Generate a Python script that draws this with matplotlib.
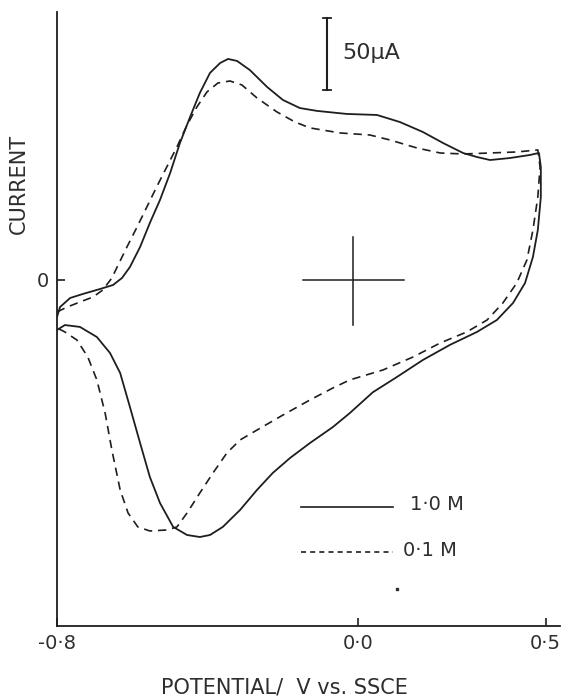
import matplotlib
matplotlib.use("Agg")
import matplotlib.pyplot as plt

# potential in V vs SSCE, current in microamps
# 1.0 M, anodic sweep then return
v_1M = [-0.800, -0.792, -0.765, -0.731, -0.686, -0.651, -0.627, -0.606, -0.579, -0.553,
        -0.526, -0.499, -0.473, -0.446, -0.420, -0.393, -0.366, -0.345, -0.321, -0.287,
        -0.241, -0.199, -0.154, -0.108, -0.029, 0.051, 0.112, 0.173, 0.227, 0.280,
        0.317, 0.352, 0.405, 0.458, 0.482,
        0.487, 0.487, 0.479, 0.466, 0.445, 0.413, 0.370, 0.317, 0.245, 0.173,
        0.104, 0.040, -0.021, -0.066, -0.127, -0.180, -0.226, -0.268, -0.313, -0.359,
        -0.393, -0.420, -0.454, -0.491, -0.526, -0.553, -0.579, -0.606, -0.632, -0.659,
        -0.694, -0.739, -0.779, -0.800]
i_1M = [-25.7, -18.8, -12.5, -9.7, -6.3, -3.5, 1.4, 9.0, 22.9, 39.6,
        55.6, 74.3, 95.1, 113.2, 129.9, 143.8, 150.7, 153.5, 152.1, 145.8,
        134.0, 125.0, 119.4, 117.4, 115.3, 114.6, 109.7, 102.8, 95.1, 88.2,
        85.4, 83.3, 84.7, 86.8, 88.2,
        78.5, 57.6, 34.7, 16.0, -2.1, -16.0, -27.8, -36.1, -45.1, -55.6,
        -67.4, -78.0, -92.4, -102.1, -113.2, -123.6, -134.0, -145.8, -159.7, -171.5,
        -177.1, -178.5, -177.1, -171.5, -154.9, -136.8, -113.2, -88.2, -64.6, -50.7,
        -39.6, -32.6, -31.3, -34.7]

# 0.1 M
v_01M = [-0.800, -0.773, -0.739, -0.704, -0.678, -0.654, -0.640, -0.614, -0.587, -0.561,
         -0.535, -0.508, -0.481, -0.454, -0.428, -0.401, -0.372, -0.340, -0.308, -0.268,
         -0.215, -0.167, -0.127, -0.047, 0.032, 0.086, 0.157, 0.219, 0.280, 0.352,
         0.423, 0.479,
         0.485, 0.479, 0.466, 0.450, 0.423, 0.386, 0.344, 0.290, 0.219, 0.147,
         0.067, -0.021, -0.066, -0.127, -0.199, -0.268, -0.313, -0.348, -0.385, -0.420,
         -0.454, -0.481, -0.507, -0.553, -0.585, -0.611, -0.632, -0.654, -0.672, -0.694,
         -0.718, -0.747, -0.779, -0.800]
i_01M = [-22.2, -18.8, -15.3, -11.8, -6.9, 1.4, 9.0, 22.9, 36.8, 50.7,
         64.6, 78.5, 92.4, 107.6, 120.1, 130.6, 136.8, 138.2, 135.4, 126.4,
         116.7, 109.7, 105.6, 102.1, 100.7, 97.2, 91.7, 88.2, 87.5, 88.2,
         88.9, 90.3,
         78.5, 57.6, 34.7, 13.9, -2.1, -16.0, -27.8, -36.1, -43.8, -53.5,
         -62.5, -69.4, -75.0, -83.3, -93.8, -104.2, -111.1, -120.1, -134.0, -147.9,
         -161.8, -171.5, -173.6, -174.3, -171.5, -161.8, -145.8, -118.1, -92.4, -69.4,
         -53.5, -41.7, -36.1, -33.3]

xticks = [-0.8, 0.0, 0.5]
xticklabels = ["-0·8", "0·0", "0·5"]
yticks = [0]
yticklabels = ["0"]

# origin cross and 50 uA scale bar
cross_h = [-0.146, 0.123]
cross_v = [-31.3, 29.9]
cross_x = -0.013
bar_x = -0.082
bar_y = [132, 182]

ink = "#1e1e1e"
txt = "#2e2e2e"

fig = plt.figure(figsize=(5.66, 6.99), dpi=100)
ax = fig.add_axes([57 / 566, (699 - 626) / 699, (560 - 57) / 566, (626 - 12) / 699])
ax.set_xlim(-0.8, 0.538)
ax.set_ylim(-240.3, 186.1)

ax.plot(v_1M, i_1M, color=ink, lw=1.3, solid_joinstyle="round")
ax.plot(v_01M, i_01M, color=ink, lw=1.2, linestyle=(0, (5, 3.5)))

# cross at the origin
ax.plot(cross_h, [0, 0], color=ink, lw=1.1)
ax.plot([cross_x, cross_x], cross_v, color=ink, lw=1.1)

# scale bar
ax.plot([bar_x, bar_x], bar_y, color=ink, lw=1.5)
ax.plot([bar_x - 0.01, bar_x + 0.01], [bar_y[0]] * 2, color=ink, lw=1.3)
ax.plot([bar_x - 0.01, bar_x + 0.01], [bar_y[1]] * 2, color=ink, lw=1.3)
ax.text(bar_x + 0.04, 157.6, "50µA", fontsize=16, color=txt, va="center", ha="left")

# legend drawn by hand like the original
ax.plot([-0.151, 0.094], [-157.6, -157.6], color=ink, lw=1.2)
ax.plot([-0.151, 0.094], [-188.9, -188.9], color=ink, lw=1.2, linestyle=(0, (3, 2.5)))
ax.text(0.139, -156, "1·0 M", fontsize=14, color=txt, va="center", ha="left")
ax.text(0.120, -188, "0·1 M", fontsize=14, color=txt, va="center", ha="left")
ax.plot([0.105], [-214.5], marker="s", ms=2, color=txt)

for s in ["top", "right"]:
    ax.spines[s].set_visible(False)
for s in ["left", "bottom"]:
    ax.spines[s].set_linewidth(1.3)
    ax.spines[s].set_color(ink)

ax.set_xticks(xticks)
ax.set_xticklabels(xticklabels)
ax.set_yticks(yticks)
ax.set_yticklabels(yticklabels)
ax.tick_params(direction="in", length=6, width=1.2, colors=ink, labelcolor=txt,
               labelsize=14, pad=6)

ax.set_xlabel("POTENTIAL/  V vs. SSCE", fontsize=15, color=txt, va="center")
ax.xaxis.set_label_coords(0.453, -0.1)
ax.set_ylabel("CURRENT", fontsize=15, color=txt)
ax.yaxis.set_label_coords(-0.055, 0.72)

fig.savefig("out.png", dpi=100)
